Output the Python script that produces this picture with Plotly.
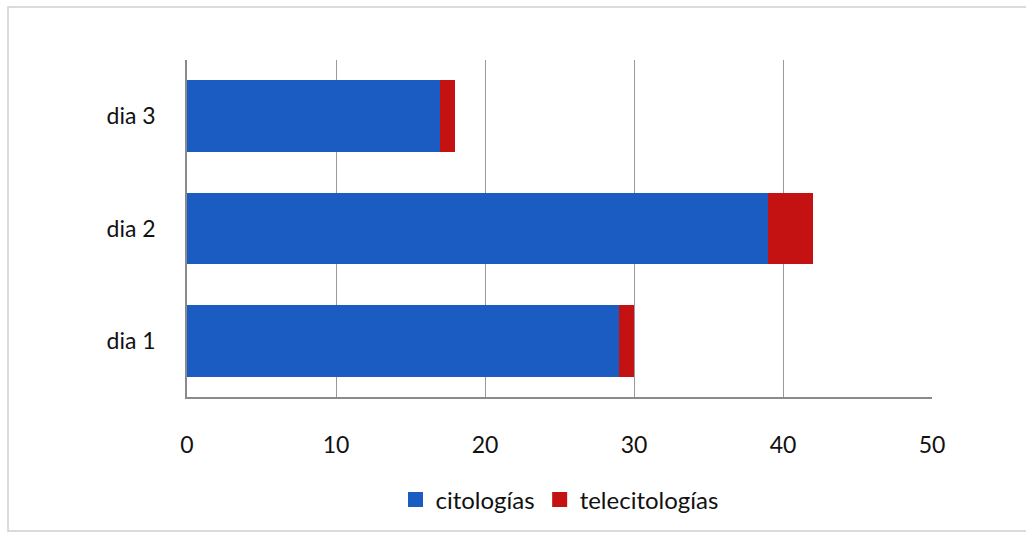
import plotly.graph_objects as go

categories = ["dia 1", "dia 2", "dia 3"]
citologias = [29, 39, 17]
telecitologias = [1, 3, 1]
x_ticks = [0, 10, 20, 30, 40, 50]
series_names = ["citologías", "telecitologías"]
series_colors = ["#1A5CC2", "#C41212"]

W, H = 1026, 535
L, R, T, B = 187, 1026 - 932, 60, 535 - 397
pw, ph = W - L - R, H - T - B

fig = go.Figure()
for vals, name, col in zip([citologias, telecitologias], series_names, series_colors):
    fig.add_trace(go.Bar(y=categories, x=vals, orientation="h", name=name,
                         marker=dict(color=col, line_width=0), showlegend=False))
# legend entries with larger square markers
for name, col in zip(series_names, series_colors):
    fig.add_trace(go.Scatter(x=[None], y=[None], mode="markers", name=name,
                             marker=dict(symbol="square", size=15, color=col)))

def px_x(p):
    return (p - L) / pw

def px_y(p):
    return (H - B - p) / ph

fig.update_layout(
    width=W, height=H, barmode="stack", bargap=0.36,
    margin=dict(l=L, r=R, t=T, b=B),
    paper_bgcolor="white", plot_bgcolor="white",
    font=dict(family="Lato, Open Sans, sans-serif", size=23, color="#111111"),
    xaxis=dict(range=[0, 50], tickvals=x_ticks, ticktext=[str(v) for v in x_ticks],
               showgrid=True, gridcolor="#9a9a9a", gridwidth=1.3, zeroline=False,
               showline=True, linecolor="#8a8a8a", linewidth=1.5,
               ticks="", ticklabelstandoff=27, tickfont=dict(size=23)),
    yaxis=dict(showgrid=False, zeroline=False, showline=True, linecolor="#8a8a8a",
               linewidth=1.5, ticks="", ticklabelstandoff=25, tickfont=dict(size=23),
               categoryorder="array", categoryarray=categories),
    legend=dict(orientation="h", x=0.5, xanchor="center", y=px_y(500), yanchor="middle",
                font=dict(size=24), itemwidth=30, traceorder="normal"),
    showlegend=True,
    shapes=[dict(type="rect", xref="paper", yref="paper",
                 x0=px_x(8), x1=px_x(1040), y0=px_y(531), y1=px_y(7),
                 line=dict(color="#d0d0d0", width=1.5), layer="below")],
)

fig.write_html("out.html")
